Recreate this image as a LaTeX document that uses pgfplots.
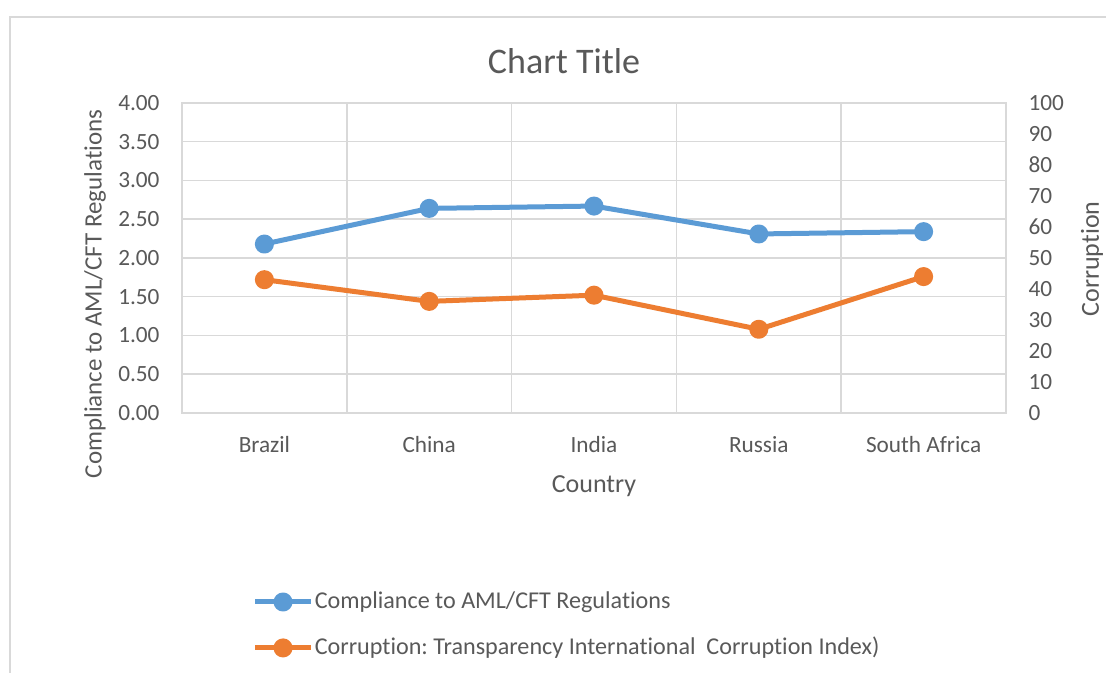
\documentclass[border=0pt]{standalone}
\usepackage{fontspec}
\setmainfont{Carlito}[Ligatures=NoCommon]
\usepackage{pgfplots}
\pgfplotsset{compat=1.18}
\definecolor{cblue}{HTML}{5B9BD5}
\definecolor{corange}{HTML}{ED7D31}
\definecolor{gridgray}{HTML}{D9D9D9}
\definecolor{textgray}{HTML}{595959}
\frenchspacing

\pgfplotsset{
  exbase/.style={
    scale only axis, width=329.6pt, height=124pt,
    at={(72.8pt,104pt)}, anchor=south west,
    xmin=0.5, xmax=5.5,
    major tick length=0pt, minor tick length=0pt,
    axis line style={draw=gridgray, line width=0.6pt},
    tick label style={font=\fontsize{9.3}{11}\selectfont, text=textgray},
    /pgf/number format/assume math mode=true,
  },
  exline/.style={line width=2pt, line join=round, mark=*, mark size=2.8pt,
    mark options={solid, fill=#1, draw=#1}, color=#1},
}

\begin{document}
\begin{tikzpicture}
\useasboundingbox (0,0) rectangle (442.4pt,269.2pt);
\fill[white] (0,0) rectangle (442.4pt,269.2pt);
\draw[gridgray, line width=0.8pt] (4pt,0pt) -- (4pt,262.4pt) -- (442.4pt,262.4pt);

\begin{axis}[exbase,
  ymin=0, ymax=4,
  xtick={1,...,5}, xticklabels={Brazil,China,India,Russia,South Africa},
  minor xtick={1.5,2.5,3.5,4.5},
  xminorgrids, ymajorgrids,
  ytick={0,0.5,...,4},
  grid style={draw=gridgray, line width=0.6pt},
  minor grid style={draw=gridgray, line width=0.6pt},
  yticklabel style={/pgf/number format/.cd, fixed, fixed zerofill, precision=2,
    /tikz/.cd, anchor=east, inner sep=0pt, xshift=-8.8pt},
  xticklabel style={anchor=base, inner sep=0pt, yshift=-16pt},
  legend style={at={(0.085,-0.571)}, anchor=north west, draw=none, fill=none,
    inner sep=0pt, font=\fontsize{9.65}{11}\selectfont, text=textgray,
    row sep=9pt, cells={anchor=west},
    nodes={inner sep=0.5pt}},
  legend image code/.code={\draw[mark repeat=2, mark phase=2]
    plot coordinates {(0pt,0pt)(11.2pt,0pt)(22.4pt,0pt)};},
]
\addplot[exline=cblue] coordinates {(1,2.18) (2,2.64) (3,2.67) (4,2.31) (5,2.34)};
\addlegendentry{Compliance to AML/CFT Regulations}
\addlegendimage{exline=corange}
\addlegendentry{Corruption: Transparency International\ \ Corruption Index)}
\end{axis}

\begin{axis}[exbase,
  ymin=0, ymax=100,
  ytick={0,10,...,100},
  hide x axis, axis y line*=right,
  yticklabel style={anchor=west, inner sep=0pt, xshift=8.8pt},
]
\addplot[exline=corange] coordinates {(1,43) (2,36) (3,38) (4,27) (5,44)};
\end{axis}

\node[font=\fontsize{14.4}{17}\selectfont, text=textgray, anchor=base] at (225.6pt,239.6pt) {Chart Title};
\node[font=\fontsize{10.4}{12}\selectfont, text=textgray, anchor=base] at (237.6pt,72pt) {Country};
\node[font=\fontsize{10}{12}\selectfont, text=textgray, rotate=90, anchor=center] at (38pt,151.6pt) {Compliance to AML/CFT Regulations};
\node[font=\fontsize{10.4}{12}\selectfont, text=textgray, rotate=90, anchor=center] at (436.8pt,165.6pt) {Corruption};
\end{tikzpicture}
\end{document}
